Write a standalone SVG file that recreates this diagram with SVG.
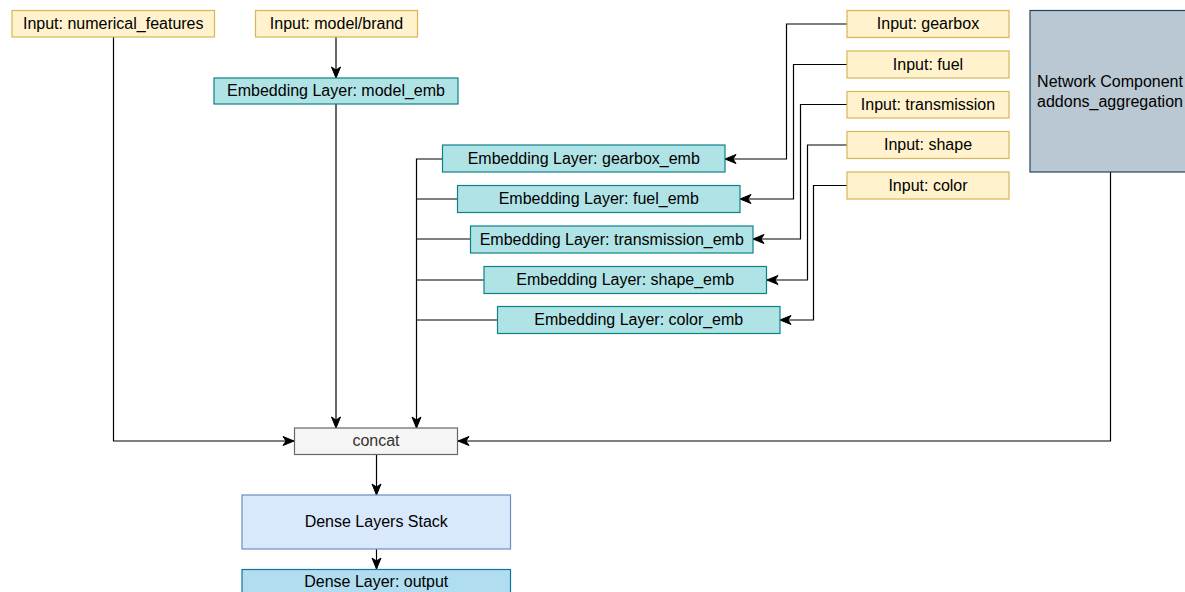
<svg xmlns="http://www.w3.org/2000/svg" width="1185" height="592" viewBox="0 0 1185 592">
  <style>
    .lbl { font-family: "Liberation Sans", Arial, sans-serif; font-size: 16px; fill: #000; text-anchor: middle; dominant-baseline: central; }
    .input { fill: #fff2cc; stroke: #d6b656; stroke-width: 1.2; }
    .emb { fill: #b0e3e6; stroke: #0e8088; stroke-width: 1.2; }
    .concat { fill: #f5f5f5; stroke: #666666; stroke-width: 1.2; }
    .dense { fill: #dae8fc; stroke: #6c8ebf; stroke-width: 1.2; }
    .out { fill: #b1ddf0; stroke: #10739e; stroke-width: 1.2; }
    .comp { fill: #bac8d3; stroke: #23445d; stroke-width: 1.2; }
    .edge { fill: none; stroke: #000; stroke-width: 1.2; }
  </style>
  <defs>
    <marker id="arrow" markerUnits="userSpaceOnUse" markerWidth="13" markerHeight="12" refX="12" refY="6" orient="auto">
      <path d="M1,1.5 L12,6 L1,10.5 L4,6 Z" fill="#000" stroke="#000" stroke-width="1"/>
    </marker>
  </defs>
  <rect width="1185" height="592" fill="#ffffff"/>

  <!-- connectors -->
  <g id="edges">
    <path class="edge" d="M113.5,37 V441 H294" marker-end="url(#arrow)"/>
    <path class="edge" d="M336,37 V78" marker-end="url(#arrow)"/>
    <path class="edge" d="M336,104 V428" marker-end="url(#arrow)"/>
    <path class="edge" d="M442,159 H416.5 V428" marker-end="url(#arrow)"/>
    <path class="edge" d="M457,199 H416.5"/>
    <path class="edge" d="M471,239 H416.5"/>
    <path class="edge" d="M484,280 H416.5"/>
    <path class="edge" d="M497,320 H416.5"/>
    <path class="edge" d="M847,24 H786.5 V159 H725" marker-end="url(#arrow)"/>
    <path class="edge" d="M847,64.5 H793.5 V199 H740" marker-end="url(#arrow)"/>
    <path class="edge" d="M847,104.5 H800.5 V239 H753" marker-end="url(#arrow)"/>
    <path class="edge" d="M847,145 H807.5 V280 H767" marker-end="url(#arrow)"/>
    <path class="edge" d="M847,185.5 H813.5 V320 H780" marker-end="url(#arrow)"/>
    <path class="edge" d="M1110.5,172 V441 H458" marker-end="url(#arrow)"/>
    <path class="edge" d="M376.5,454 V495" marker-end="url(#arrow)"/>
    <path class="edge" d="M376.5,549 V569" marker-end="url(#arrow)"/>
  </g>

  <g id="in-numerical">
    <rect class="input" x="12" y="10.5" width="202.5" height="26.5"/>
    <text class="lbl" x="113.25" y="23.5">Input: numerical_features</text>
  </g>
  <g id="in-model">
    <rect class="input" x="255.5" y="10.5" width="162" height="26.5"/>
    <text class="lbl" x="336.5" y="23.5">Input: model/brand</text>
  </g>
  <g id="emb-model">
    <rect class="emb" x="214" y="78" width="244" height="26"/>
    <text class="lbl" x="336" y="90.5">Embedding Layer: model_emb</text>
  </g>

  <g id="emb-gearbox">
    <rect class="emb" x="442.5" y="145" width="282.5" height="27"/>
    <text class="lbl" x="583.75" y="158">Embedding Layer: gearbox_emb</text>
  </g>
  <g id="emb-fuel">
    <rect class="emb" x="457.5" y="185.5" width="282.5" height="27"/>
    <text class="lbl" x="598.75" y="198.5">Embedding Layer: fuel_emb</text>
  </g>
  <g id="emb-transmission">
    <rect class="emb" x="470.5" y="226" width="282.5" height="27"/>
    <text class="lbl" x="611.75" y="239">Embedding Layer: transmission_emb</text>
  </g>
  <g id="emb-shape">
    <rect class="emb" x="484" y="266.5" width="282.5" height="27"/>
    <text class="lbl" x="625.25" y="279.5">Embedding Layer: shape_emb</text>
  </g>
  <g id="emb-color">
    <rect class="emb" x="497.5" y="306.5" width="282.5" height="27"/>
    <text class="lbl" x="638.75" y="319.5">Embedding Layer: color_emb</text>
  </g>

  <g id="in-gearbox">
    <rect class="input" x="847" y="10.5" width="162" height="27"/>
    <text class="lbl" x="928" y="23.5">Input: gearbox</text>
  </g>
  <g id="in-fuel">
    <rect class="input" x="847" y="51" width="162" height="27"/>
    <text class="lbl" x="928" y="64">Input: fuel</text>
  </g>
  <g id="in-transmission">
    <rect class="input" x="847" y="91.5" width="162" height="26.5"/>
    <text class="lbl" x="928" y="104.25">Input: transmission</text>
  </g>
  <g id="in-shape">
    <rect class="input" x="847" y="131.5" width="162" height="27"/>
    <text class="lbl" x="928" y="144.5">Input: shape</text>
  </g>
  <g id="in-color">
    <rect class="input" x="847" y="172" width="162" height="27"/>
    <text class="lbl" x="928" y="185">Input: color</text>
  </g>

  <g id="addons-aggregation">
    <rect class="comp" x="1030" y="10.5" width="160" height="161.5"/>
    <text class="lbl" x="1110" y="81">Network Component</text>
    <text class="lbl" x="1110" y="101">addons_aggregation</text>
  </g>

  <g id="concat">
    <rect class="concat" x="294.5" y="428" width="163" height="26.5"/>
    <text class="lbl" x="376" y="440.75" style="fill:#333333">concat</text>
  </g>
  <g id="dense-stack">
    <rect class="dense" x="242" y="495" width="268.5" height="54"/>
    <text class="lbl" x="376.25" y="521.5">Dense Layers Stack</text>
  </g>
  <g id="dense-output">
    <rect class="out" x="242" y="569.5" width="268.5" height="40"/>
    <text class="lbl" x="376.25" y="581.5">Dense Layer: output</text>
  </g>
</svg>
